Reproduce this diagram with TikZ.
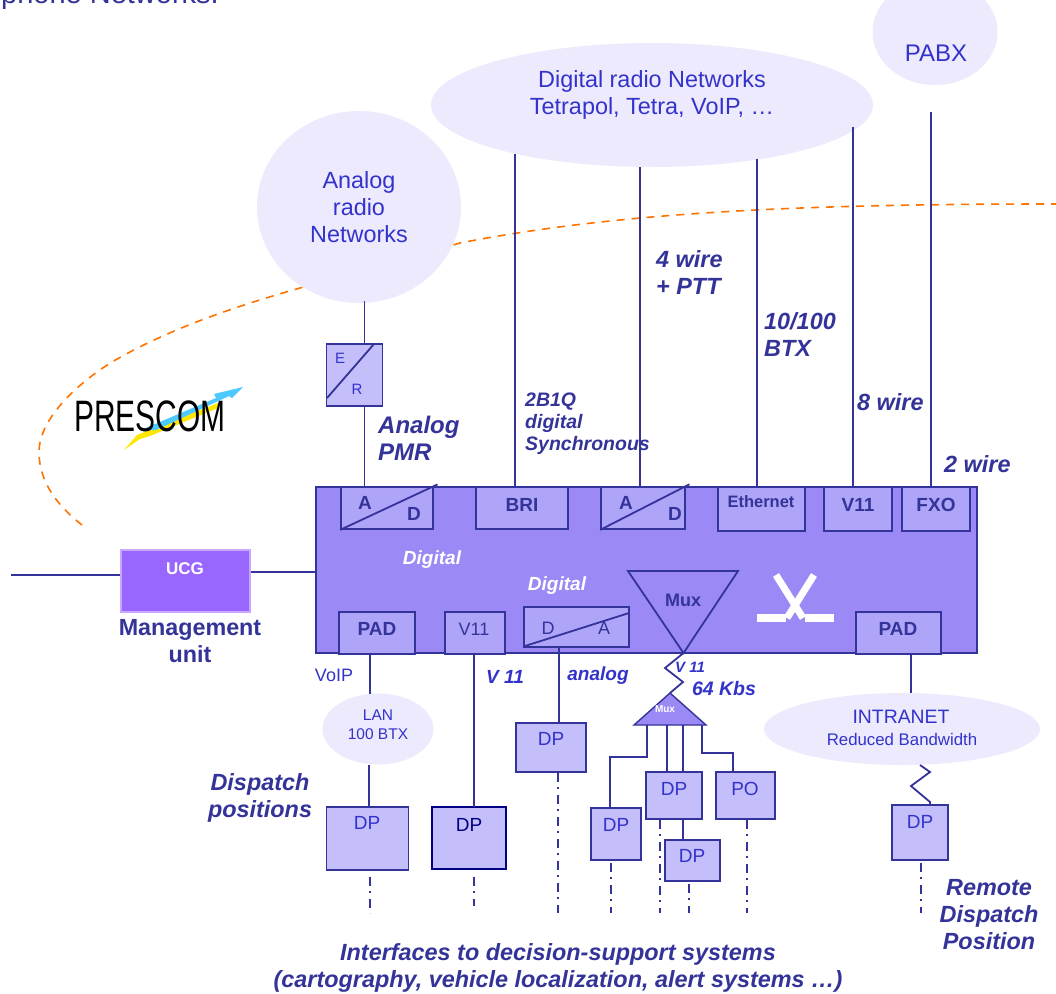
\documentclass[tikz,border=0pt]{standalone}
\usepackage{fontspec}
\setmainfont{Liberation Sans}
\usetikzlibrary{shapes.geometric}
\definecolor{navyInk}{HTML}{333399}
\definecolor{blueInk}{HTML}{3333CC}
\definecolor{cloudFill}{HTML}{ECEAFC}
\definecolor{dpFill}{HTML}{C4BEFA}
\definecolor{portFill}{HTML}{AFA5F8}
\definecolor{coreFill}{HTML}{9B8AF5}
\definecolor{ucgFill}{HTML}{9966FF}
\definecolor{ucgEdge}{HTML}{C9A6FF}
\tikzset{
    cloud/.style={ellipse, fill=cloudFill, inner sep=0pt},
    coreBox/.style={rectangle, draw=navyInk, fill=coreFill, line width=1.8pt, inner sep=0pt},
    portBox/.style={rectangle, draw=navyInk, fill=portFill, line width=1.8pt, inner sep=0pt},
    dpBox/.style={rectangle, draw=navyInk, fill=dpFill, line width=1.8pt, inner sep=0pt},
    wire/.style={draw=navyInk, line width=1.8pt},
    tail/.style={draw=navyInk, line width=1.8pt, dash pattern=on 9pt off 5pt on 2pt off 6pt},
    txtPlain/.style={text=blueInk, inner sep=0pt, align=center},
    txtTag/.style={text=navyInk, inner sep=0pt, align=left, font=\fontsize{23.4}{27}\selectfont\bfseries\itshape},
    txtPort/.style={text=navyInk, inner sep=0pt, font=\fontsize{19}{22}\selectfont\bfseries},
}
% box from its corners, the text sits at its own position
\newcommand{\drawBoxText}[9][dpBox]{
    \node[#1, minimum width=#5pt-#3pt, minimum height=#6pt-#4pt] (#2) at ({(#3+#5)/2},{(#4+#6)/2}) {};
    \node[txtPlain, #8] (#2Txt) at #7 {#9};
}
\begin{document}
\begin{tikzpicture}[x=1pt, y=-1pt]
    \path[use as bounding box, clip] (0,0) rectangle (1056,993);
    \fill[white] (0,0) rectangle (1056,993);

    \node[anchor=base east, inner sep=0pt, text=navyInk, font=\fontsize{29}{32}\selectfont] (title) at (219,3) {Telephone Networks.};

    % orange border of the network
    \draw[draw=orange!90!red, line width=1.6pt, dash pattern=on 8pt off 7pt] (82,525) .. controls (50,500) and (39,475) .. (39,452) .. controls (39,420) and (75,385) .. (112,362) .. controls (170,328) and (240,305) .. (300,288) -- (460,243) .. controls (620,212) and (800,204) .. (1056,204);

    % networks
    \node[cloud, minimum width=204pt, minimum height=192pt] (analog) at (359,207) {};
    \node[txtPlain, font=\fontsize{23.4}{27}\selectfont] (analogTxt) at (359,207) {Analog\\radio\\Networks};
    \node[cloud, minimum width=442pt, minimum height=124pt] (digital) at (652,105) {};
    \node[txtPlain, font=\fontsize{23.4}{27}\selectfont] (digitalTxt) at (652,95) {Digital radio Networks\\Tetrapol, Tetra, VoIP, \dots};
    \node[cloud, minimum width=125pt, minimum height=106pt] (pabx) at (935,32) {};
    \node[txtPlain, font=\fontsize{24}{27}\selectfont] (pabxTxt) at (936,53) {PABX};
    \node[cloud, minimum width=111pt, minimum height=71pt] (lan) at (378,729) {};
    \node[txtPlain, font=\fontsize{15.5}{19}\selectfont] (lanTxt) at (378,725) {LAN\\100 BTX};
    \node[cloud, minimum width=276pt, minimum height=72pt] (intranet) at (902,729) {};
    \node[txtPlain, font=\fontsize{19.4}{22}\selectfont] (intranetTxt) at (901,717) {INTRANET};
    \node[txtPlain, font=\fontsize{16.8}{18}\selectfont] (intranetSub) at (902,739) {Reduced Bandwidth};

    % main unit and its ports
    \node[coreBox, minimum width=661pt, minimum height=166pt] (core) at (646.5,570) {};
    \drawBoxText[portBox]{adOne}{341}{487}{433}{529}{(365,503)}{font=\fontsize{19}{22}\selectfont\bfseries, text=navyInk}{A}
    \drawBoxText[portBox]{bri}{476}{487}{568}{529}{(522,505)}{font=\fontsize{19}{22}\selectfont\bfseries, text=navyInk}{BRI}
    \drawBoxText[portBox]{adTwo}{601}{487}{685}{529}{(626,503)}{font=\fontsize{19}{22}\selectfont\bfseries, text=navyInk}{A}
    \drawBoxText[portBox]{ether}{718}{487}{805}{531}{(761,502)}{font=\fontsize{16.5}{20}\selectfont\bfseries, text=navyInk}{Ethernet}
    \drawBoxText[portBox]{vOne}{824}{487}{892}{531}{(858,505)}{font=\fontsize{19}{22}\selectfont\bfseries, text=navyInk}{V11}
    \drawBoxText[portBox]{fxo}{902}{487}{970}{531}{(936,505)}{font=\fontsize{19}{22}\selectfont\bfseries, text=navyInk}{FXO}
    \drawBoxText[portBox]{padL}{339}{612}{415}{654}{(377,629)}{font=\fontsize{19}{22}\selectfont\bfseries, text=navyInk}{PAD}
    \drawBoxText[portBox]{vTwo}{445}{612}{505}{654}{(474,629)}{font=\fontsize{18}{22}\selectfont, text=navyInk}{V11}
    \drawBoxText[portBox]{da}{524}{607}{629}{647}{(548,628)}{font=\fontsize{18}{22}\selectfont, text=navyInk}{D}
    \drawBoxText[portBox]{padR}{856}{612}{941}{654}{(898,629)}{font=\fontsize{19}{22}\selectfont\bfseries, text=navyInk}{PAD}
    \node[txtPort] (adOneD) at (414,514) {D};
    \node[txtPort] (adTwoD) at (675,514) {D};
    \node[inner sep=0pt, text=navyInk, font=\fontsize{18}{22}\selectfont] (daA) at (604,628) {A};
    \draw[wire, shorten >=-4pt] (adOne.south west) -- (adOne.north east);
    \draw[wire, shorten >=-4pt] (adTwo.south west) -- (adTwo.north east);
    \coordinate (daLow) at (525,646);
    \coordinate (daHigh) at (629,613);
    \draw[wire] (daLow) -- (daHigh);

    \node[inner sep=0pt, text=white, font=\fontsize{19}{23}\selectfont\bfseries\itshape] (digA) at (432,560) {Digital};
    \node[inner sep=0pt, text=white, font=\fontsize{19}{23}\selectfont\bfseries\itshape] (digB) at (557,586) {Digital};

    % mux of the unit
    \coordinate (muxA) at (628,571);
    \coordinate (muxB) at (738,571);
    \coordinate (muxTip) at (683.5,653);
    \draw[wire, fill=coreFill] (muxA) -- (muxB) -- (muxTip) -- cycle;
    \node[txtPort, font=\fontsize{18}{22}\selectfont\bfseries] (muxTxt) at (683,600) {Mux};

    % switch symbol
    \draw[white, line width=7.5pt] (757,618) -- (786,618);
    \draw[white, line width=7.5pt] (805,618) -- (834,618);
    \draw[white, line width=7pt] (776,575) -- (803,618);
    \draw[white, line width=7pt] (814,575) -- (787,618);

    % management
    \node[rectangle, draw=ucgEdge, fill=ucgFill, line width=1.8pt, minimum width=129pt, minimum height=62pt] (ucg) at (185.5,581) {};
    \node[inner sep=0pt, text=white, font=\fontsize{17}{20}\selectfont\bfseries] (ucgTxt) at (185,569) {UCG};
    \node[inner sep=0pt, align=center, text=navyInk, font=\fontsize{23.3}{26.5}\selectfont\bfseries] (mgmt) at (190,641) {Management\\unit};
    \coordinate (mgmtOut) at (11,575);
    \coordinate (coreIn) at (core.west |- 0,572);
    \draw[wire] (mgmtOut) -- (mgmtOut -| ucg.west);
    \draw[wire] (coreIn -| ucg.east) -- (coreIn);

    % E/R converter
    \node[dpBox, minimum width=56pt, minimum height=62pt] (er) at (354.5,375) {};
    \node[txtPlain, font=\fontsize{15}{18}\selectfont] (erE) at (340,358) {E};
    \node[txtPlain, font=\fontsize{15}{18}\selectfont] (erR) at (357,389) {R};
    \coordinate (erLow) at (327,398);
    \coordinate (erHigh) at (374,344);
    \draw[wire] (erLow) -- (erHigh);
    \coordinate (analogOut) at (364.5,301);
    \draw[wire] (analogOut) -- (analogOut |- er.north);
    \draw[wire] (analogOut |- er.south) -- (analogOut |- adOne.north);

    % wires up to the networks
    \coordinate (briOut) at (515,154);
    \coordinate (adOut) at (640,167);
    \coordinate (etherOut) at (757,159);
    \coordinate (vOneOut) at (853,127);
    \coordinate (fxoOut) at (931,112);
    \draw[wire] (briOut) -- (briOut |- bri.north);
    \draw[wire] (adOut) -- (adOut |- adTwo.north);
    \draw[wire] (etherOut) -- (etherOut |- ether.north);
    \draw[wire] (vOneOut) -- (vOneOut |- vOne.north);
    \draw[wire] (fxoOut) -- (fxoOut |- fxo.north);

    \node[txtTag, anchor=west] (tagFour) at (656,272.5) {4 wire\\+ PTT};
    \node[txtTag, anchor=west] (tagTen) at (764,334.5) {10/100\\BTX};
    \node[txtTag, anchor=west] (tagEight) at (857,402) {8 wire};
    \node[txtTag, anchor=west] (tagTwo) at (944,464) {2 wire};
    \node[txtTag, anchor=west, font=\fontsize{24}{27}\selectfont\bfseries\itshape] (tagPmr) at (378,438.5) {Analog\\PMR};
    \node[txtTag, anchor=west, font=\fontsize{19.5}{22}\selectfont\bfseries\itshape] (tagBri) at (525,424) {2B1Q\\digital\\Synchronous};

    % logo
    \fill[yellow!90!orange] (124,450) -- (137,435) -- (218,403) -- (218,408) -- (150,436) -- (140,439) -- cycle;
    \fill[blue!30!cyan!70] (141,430) -- (216,398) -- (214,394) -- (243,387) -- (232,398) -- (229,396) -- (156,430) -- cycle;
    \node[inner sep=0pt, text=black, xscale=0.68, transform shape, font=\fontsize{44}{48}\selectfont] (logo) at (150,416) {PRESCOM};

    % lower side
    \node[dpBox, minimum width=82pt, minimum height=63pt] (dpA) at (367.5,838.5) {};
    \node[txtPlain, font=\fontsize{19}{22}\selectfont] (dpATxt) at (367,823) {DP};
    \node[dpBox, draw=blue!50!black, line width=2.2pt, minimum width=74pt, minimum height=62pt] (dpB) at (469,838) {};
    \node[txtPlain, text=blue!50!black, font=\fontsize{19}{22}\selectfont] (dpBTxt) at (469,825) {DP};
    \node[dpBox, minimum width=70pt, minimum height=49pt] (dpC) at (551,747.5) {};
    \node[txtPlain, font=\fontsize{19}{22}\selectfont] (dpCTxt) at (551,739) {DP};
    \node[dpBox, minimum width=50pt, minimum height=52pt] (dpD) at (616,834) {};
    \node[txtPlain, font=\fontsize{19}{22}\selectfont] (dpDTxt) at (616,825) {DP};
    \node[dpBox, minimum width=56pt, minimum height=47pt] (dpE) at (674,795.5) {};
    \node[txtPlain, font=\fontsize{19}{22}\selectfont] (dpETxt) at (674,789) {DP};
    \node[dpBox, minimum width=55pt, minimum height=41pt] (dpF) at (692.5,860.5) {};
    \node[txtPlain, font=\fontsize{19}{22}\selectfont] (dpFTxt) at (692,856) {DP};
    \node[dpBox, minimum width=59pt, minimum height=47pt] (po) at (745.5,795.5) {};
    \node[txtPlain, font=\fontsize{19}{22}\selectfont] (poTxt) at (745,789) {PO};
    \node[dpBox, minimum width=56pt, minimum height=55pt] (dpG) at (920,832.5) {};
    \node[txtPlain, font=\fontsize{19}{22}\selectfont] (dpGTxt) at (920,822) {DP};

    \coordinate (padOut) at (370,694);
    \coordinate (lanOut) at (369,765);
    \coordinate (vTwoOut) at (474,807);
    \coordinate (daOut) at (559,722);
    \draw[wire] (padL.south -| padOut) -- (padOut);
    \draw[wire] (lanOut) -- (lanOut |- dpA.north);
    \draw[wire] (vTwo.south -| vTwoOut) -- (vTwoOut);
    \draw[wire] (da.south -| daOut) -- (daOut);
    \coordinate (padROut) at (911,693);
    \draw[wire] (padR.south -| padROut) -- (padROut);
    \coordinate (intraOut) at (920,765);
    \coordinate (kinkA) at (930,772);
    \coordinate (kinkB) at (911,786);
    \coordinate (kinkC) at (930,802);
    \draw[wire] (intraOut) -- (kinkA) -- (kinkB) -- (kinkC) -- (kinkC |- dpG.north);

    % small mux under the unit
    \coordinate (subTop) at (670,693);
    \coordinate (subLeft) at (634,725);
    \coordinate (subRight) at (706,725);
    \coordinate (zigA) at (665,668);
    \coordinate (zigB) at (683,682);
    \draw[wire] (muxTip) -- (zigA) -- (zigB) -- (subTop);
    \draw[wire, line width=1.4pt, fill=coreFill] (subTop) -- (subRight) -- (subLeft) -- cycle;
    \node[inner sep=0pt, text=white, font=\fontsize{10}{12}\selectfont\bfseries] (subTxt) at (665,709) {Mux};

    \coordinate (legA) at (647,725);
    \coordinate (legB) at (667,725);
    \coordinate (legC) at (683,725);
    \coordinate (legD) at (702,725);
    \coordinate (legAelbow) at (647,757);
    \coordinate (legDelbow) at (702,753);
    \coordinate (dpDin) at (610,757);
    \coordinate (poIn) at (733,753);
    \draw[wire] (legA) -- (legAelbow) -- (dpDin) -- (dpDin |- dpD.north);
    \draw[wire] (legB) -- (legB |- dpE.north);
    \draw[wire] (legC) -- (legC |- dpE.north);
    \draw[wire] (legD) -- (legDelbow) -- (poIn) -- (poIn |- po.north);
    \draw[wire] (legC |- dpE.south) -- (legC |- dpF.north);

    % tails of the dispatch positions
    \draw[tail] (370,877) -- (370,913);
    \draw[tail] (474,877) -- (474,906);
    \draw[tail] (558,773) -- (558,913);
    \draw[tail] (611,863) -- (611,913);
    \draw[tail] (660,820) -- (660,913);
    \draw[tail] (689,884) -- (689,913);
    \draw[tail] (747,820) -- (747,913);
    \draw[tail] (921,863) -- (921,913);

    % labels of the lower side
    \node[txtPlain, font=\fontsize{18}{22}\selectfont] (voip) at (334,675) {VoIP};
    \node[txtPlain, font=\fontsize{19}{22}\selectfont\bfseries\itshape] (vLabel) at (505,677) {V 11};
    \node[txtPlain, font=\fontsize{19}{22}\selectfont\bfseries\itshape] (analogLabel) at (598,676) {analog};
    \node[txtPlain, font=\fontsize{15}{18}\selectfont\bfseries\itshape] (vMuxLabel) at (690,667) {V 11};
    \node[txtPlain, font=\fontsize{19.5}{22}\selectfont\bfseries\itshape] (kbsLabel) at (724,689) {64 Kbs};
    \node[txtTag, align=center] (dispatch) at (260,798) {Dispatch\\positions};
    \node[txtTag, align=center] (remote) at (989,915) {Remote\\Dispatch\\Position};
    \node[txtTag, align=center] (bottomNote) at (558,968) {Interfaces to decision-support systems\\(cartography, vehicle localization, alert systems \dots)};
\end{tikzpicture}
\end{document}
